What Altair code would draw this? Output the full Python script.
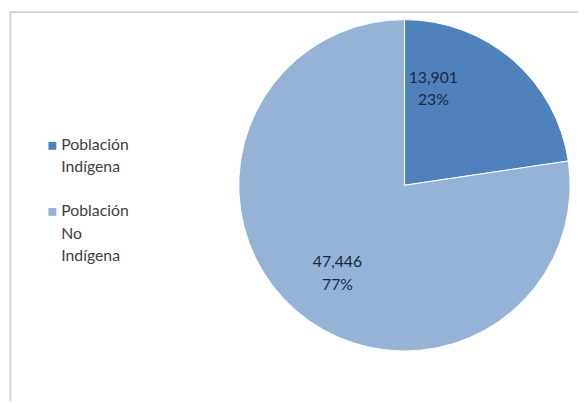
import altair as alt
import pandas as pd

categories = ["Población Indígena", "Población No Indígena"]
values = [13901, 47446]
colors = ["#4F81BD", "#95B3D7"]
legend_lines = [["Población", "Indígena"], ["Población", "No", "Indígena"]]

df = pd.DataFrame({"cat": categories, "value": values, "order": [0, 1]})

W, H = 578, 396
CX, CY, R = 402, 177, 168
FONT = "Lato"

color_enc = alt.Color("cat:N", scale=alt.Scale(domain=categories, range=colors), legend=None)

pie = alt.Chart(df).mark_arc(radius=R, stroke="white", strokeWidth=1).encode(
    theta=alt.Theta("value:Q", stack=True),
    order=alt.Order("order:Q"),
    color=color_enc,
    x=alt.value(CX),
    y=alt.value(CY),
)

base = (
    alt.Chart(df)
    .transform_joinaggregate(total="sum(value)")
    .transform_window(cum="sum(value)", sort=[alt.SortField("order")])
    .transform_calculate(
        mid="2*PI*(datum.cum - datum.value/2)/datum.total",
        pct="format(datum.value/datum.total, '.0%')",
        vtxt="format(datum.value, ',')",
    )
)

label_cfg = [
    # (radius, dx, dy of block center)
    (100, -36, -22),
    (110, 4, 6),
]

layers = [pie]
for i, cat in enumerate(categories):
    r, dx, dy = label_cfg[i]
    sub = base.transform_filter(alt.datum.cat == cat)
    for field, off in (("vtxt", -11.5), ("pct", 11.5)):
        layers.append(
            sub.mark_text(radius=r, dx=dx, dy=dy + off, fontSize=16, font=FONT, color="#1C2840").encode(
                theta=alt.Theta("mid:Q", scale=None),
                text=alt.Text(f"{field}:N"),
                x=alt.value(CX),
                y=alt.value(CY),
            )
        )

# legend
leg_y = [137, 204]
for i, cat in enumerate(categories):
    sub = alt.Chart(df).transform_filter(alt.datum.cat == cat)
    layers.append(
        sub.mark_square(size=64, opacity=1).encode(
            color=color_enc, x=alt.value(45), y=alt.value(leg_y[i])
        )
    )
    layers.append(
        sub.mark_text(
            text=legend_lines[i], align="left", baseline="top", lineHeight=23,
            fontSize=16, font=FONT, color="#404040",
        ).encode(x=alt.value(54), y=alt.value(leg_y[i] - 9))
    )

# frame
layers.append(
    alt.Chart(df).mark_rule(color="#D0D0D0", strokeWidth=1.5).encode(
        x=alt.value(2), x2=alt.value(W), y=alt.value(1.5)
    )
)
layers.append(
    alt.Chart(df).mark_rule(color="#D0D0D0", strokeWidth=1.5).encode(
        x=alt.value(2.5), y=alt.value(1), y2=alt.value(H)
    )
)

chart = (
    alt.layer(*layers)
    .properties(width=W, height=H, padding=0, autosize=alt.AutoSizeParams(type="none"))
    .configure_view(stroke=None)
)

chart.save("out.html", embed_options={"renderer": "svg", "actions": False})
